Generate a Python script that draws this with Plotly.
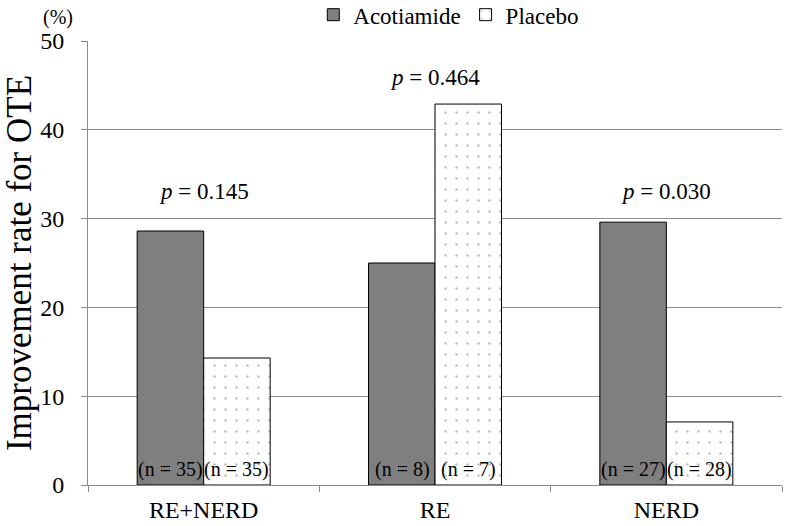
import plotly.graph_objects as go

categories = ["RE+NERD", "RE", "NERD"]
acotiamide = [28.6, 25.0, 29.6]
placebo = [14.3, 42.9, 7.1]
n_acot = ["(n = 35)", "(n = 8)", "(n = 27)"]
n_plac = ["(n = 35)", "(n = 7)", "(n = 28)"]
p_values = ["0.145", "0.464", "0.030"]
p_label_y = [33.0, 45.9, 33.0]
y_ticks = [0, 10, 20, 30, 40, 50]

FONT = "Liberation Serif, Times New Roman, serif"

fig = go.Figure()
fig.add_trace(go.Bar(
    name="Acotiamide", x=categories, y=acotiamide,
    marker=dict(color="#7f7f7f", line=dict(color="#000000", width=1)),
))
fig.add_trace(go.Bar(
    name="Placebo", x=categories, y=placebo,
    marker=dict(color="#ffffff", line=dict(color="#000000", width=1),
                pattern=dict(shape=".", fgcolor="#7a7a7a", bgcolor="#ffffff",
                             size=11, solidity=0.04, fillmode="overlay")),
))

annotations = []
for c, a, p in zip(categories, n_acot, n_plac):
    annotations.append(dict(x=c, y=0, yanchor="bottom", yshift=2, xshift=-33, text=a,
                            showarrow=False, font=dict(family=FONT, size=20, color="#000")))
    annotations.append(dict(x=c, y=0, yanchor="bottom", yshift=2, xshift=33, text=p,
                            showarrow=False, font=dict(family=FONT, size=20, color="#000")))
for c, pv, py in zip(categories, p_values, p_label_y):
    annotations.append(dict(x=c, y=py, text="<i>p</i> = " + pv, showarrow=False,
                            font=dict(family=FONT, size=23, color="#000")))
annotations.append(dict(xref="paper", yref="paper", x=-0.068, y=1.0, xanchor="left",
                        yanchor="bottom", yshift=10, text="(%)", showarrow=False,
                        font=dict(family=FONT, size=20, color="#000")))

fig.update_layout(
    width=786, height=526,
    margin=dict(l=88, r=4, t=41, b=41, autoexpand=False),
    paper_bgcolor="#ffffff", plot_bgcolor="#ffffff",
    barmode="group", bargap=0.425, bargroupgap=0,
    font=dict(family=FONT, size=20, color="#000"),
    showlegend=True,
    legend=dict(orientation="h", x=0.571, xanchor="center", xref="container",
                y=0.972, yanchor="middle", yref="container",
                font=dict(family=FONT, size=23), traceorder="normal"),
    annotations=annotations,
)
fig.update_yaxes(range=[0, 50], tickvals=y_ticks, showgrid=True, gridcolor="#8c8c8c",
                 gridwidth=1, showline=True, linecolor="#8c8c8c", ticks="outside",
                 ticklen=6, tickcolor="#8c8c8c", zeroline=False, ticklabelstandoff=12,
                 tickfont=dict(family=FONT, size=24),
                 title=dict(text="Improvement rate for OTE", font=dict(family=FONT, size=35),
                            standoff=8))
fig.update_xaxes(showline=True, linecolor="#8c8c8c", ticks="outside", tickson="boundaries",
                 ticklen=6, tickcolor="#8c8c8c", ticklabelstandoff=3,
                 tickfont=dict(family=FONT, size=24))

fig.write_html("out.html", config={"displayModeBar": False},
               post_script="document.body.style.margin='0';")
